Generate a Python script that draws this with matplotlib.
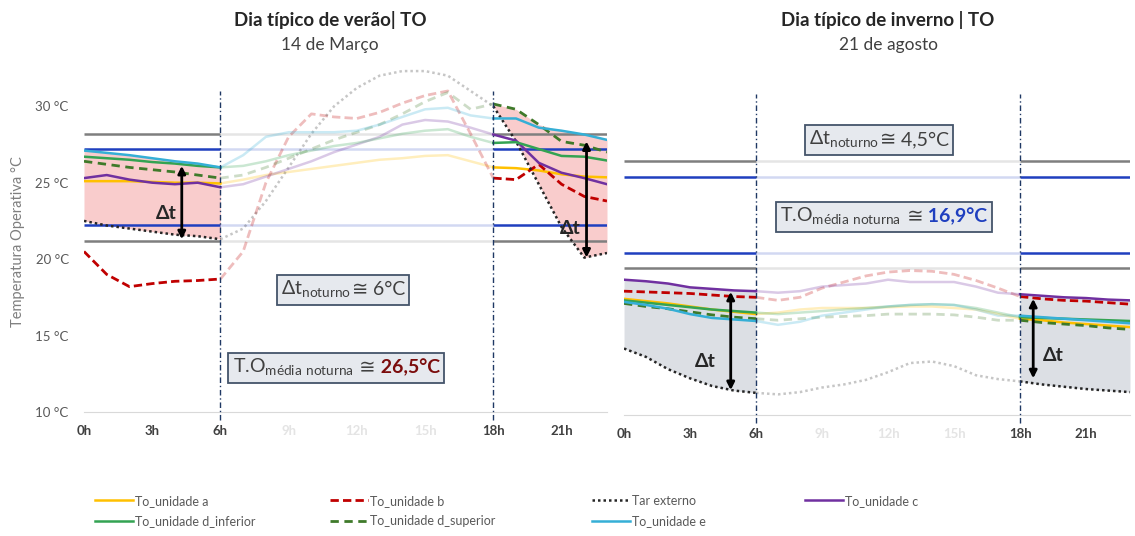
import matplotlib
matplotlib.use("Agg")
import matplotlib.pyplot as plt
from matplotlib.lines import Line2D
from matplotlib.offsetbox import TextArea, HPacker, AnnotationBbox

plt.rcParams["font.family"] = ["Lato", "DejaVu Sans"]

# hours of the day
hours = list(range(24))
tick_hours = [0, 3, 6, 9, 12, 15, 18, 21]
tick_labels = ["0h", "3h", "6h", "9h", "12h", "15h", "18h", "21h"]
night_ticks = ["0h", "3h", "6h", "18h", "21h"]

names = ["To_unidade a", "To_unidade b", "Tar externo", "To_unidade c",
         "To_unidade d_inferior", "To_unidade d_superior", "To_unidade e"]

# summer day (14 de Março)
summer_a = [25.1, 25.1, 25.1, 25.05, 25.0, 25.0, 24.95, 25.2, 25.5, 25.7, 25.9, 26.1,
            26.3, 26.5, 26.6, 26.75, 26.8, 26.4, 26.0, 25.95, 25.8, 25.55, 25.4, 25.35]
summer_b = [20.5, 19.0, 18.2, 18.4, 18.55, 18.6, 18.7, 20.5, 25.0, 28.0, 29.5, 29.3,
            29.2, 29.6, 30.2, 30.7, 31.0, 28.2, 25.3, 25.2, 26.2, 24.9, 24.1, 23.8]
summer_tar = [22.5, 22.2, 22.0, 21.8, 21.6, 21.5, 21.3, 22.0, 23.8, 26.0, 28.2, 30.0,
              31.2, 32.0, 32.3, 32.3, 32.0, 31.0, 30.0, 27.7, 24.9, 22.1, 20.1, 20.4]
summer_c = [25.3, 25.5, 25.2, 25.0, 24.9, 25.0, 24.7, 24.9, 25.4, 25.9, 26.4, 27.0,
            27.5, 28.0, 28.8, 29.1, 29.0, 28.6, 28.15, 27.75, 26.3, 25.65, 25.3, 24.9]
summer_d_inf = [26.7, 26.6, 26.5, 26.35, 26.25, 26.1, 26.0, 26.1, 26.4, 26.8, 27.1, 27.4,
                27.6, 27.9, 28.2, 28.4, 28.5, 28.0, 27.6, 27.65, 27.2, 26.75, 26.7, 26.45]
summer_d_sup = [26.4, 26.2, 26.0, 25.85, 25.7, 25.5, 25.3, 25.5, 26.0, 26.6, 27.2, 27.8,
                28.3, 28.8, 29.5, 30.3, 30.9, 29.8, 30.15, 29.8, 28.8, 27.7, 27.45, 27.0]
summer_e = [27.1, 26.95, 26.8, 26.6, 26.4, 26.25, 26.0, 26.8, 28.0, 28.3, 28.3, 28.3,
            28.4, 28.8, 29.3, 29.8, 29.9, 29.4, 29.2, 29.2, 28.6, 28.4, 28.15, 27.8]
summer_comfort = [28.2, 27.2, 22.2, 21.2]

# winter day (21 de agosto)
winter_a = [17.6, 17.45, 17.3, 17.1, 16.9, 16.75, 16.6, 16.7, 16.9, 17.0, 17.0, 17.0,
            17.05, 17.1, 17.1, 17.0, 16.9, 16.6, 16.3, 16.2, 16.05, 15.95, 15.85, 15.75]
winter_b = [18.1, 18.05, 18.0, 17.95, 17.85, 17.75, 17.7, 17.5, 17.7, 18.3, 18.7, 19.1,
            19.35, 19.45, 19.4, 19.2, 18.8, 18.3, 17.75, 17.6, 17.5, 17.45, 17.35, 17.25]
winter_tar = [14.35, 13.8, 13.0, 12.4, 11.9, 11.6, 11.45, 11.35, 11.5, 11.8, 12.0, 12.3,
              12.8, 13.4, 13.5, 13.2, 12.6, 12.35, 12.2, 12.0, 11.85, 11.7, 11.6, 11.5]
winter_c = [18.85, 18.75, 18.6, 18.35, 18.25, 18.15, 18.1, 18.0, 18.1, 18.4, 18.5, 18.6,
            18.85, 18.7, 18.7, 18.7, 18.4, 18.0, 17.9, 17.8, 17.7, 17.65, 17.55, 17.5]
winter_d_inf = [17.5, 17.35, 17.2, 17.05, 16.9, 16.8, 16.7, 16.6, 16.7, 16.8, 16.9, 17.0,
                17.1, 17.2, 17.25, 17.2, 17.0, 16.7, 16.4, 16.35, 16.3, 16.25, 16.2, 16.15]
winter_d_sup = [17.3, 17.1, 16.95, 16.75, 16.55, 16.4, 16.3, 16.2, 16.3, 16.4, 16.45, 16.5,
                16.6, 16.6, 16.6, 16.55, 16.4, 16.2, 16.2, 16.05, 15.95, 15.85, 15.7, 15.6]
winter_e = [17.4, 17.2, 16.95, 16.6, 16.35, 16.25, 16.15, 15.9, 16.1, 16.5, 16.7, 16.9,
            17.1, 17.2, 17.25, 17.2, 16.9, 16.5, 16.5, 16.4, 16.3, 16.2, 16.1, 16.0]
winter_comfort = [26.6, 25.6, 20.6, 19.6]

styles = {
    "To_unidade a": dict(color="#ffc000", ls="-", lw=1.8),
    "To_unidade b": dict(color="#c00000", ls=(0, (3, 1.5)), lw=2.0),
    "Tar externo": dict(color="#262626", ls=(0, (1, 1.2)), lw=1.8),
    "To_unidade c": dict(color="#7030a0", ls="-", lw=1.8),
    "To_unidade d_inferior": dict(color="#33a352", ls="-", lw=1.8),
    "To_unidade d_superior": dict(color="#3f7a2a", ls=(0, (3, 2)), lw=2.0),
    "To_unidade e": dict(color="#35afd6", ls="-", lw=1.8),
}
comfort_colors = ["#7f7f7f", "#1f3fbf", "#1f3fbf", "#7f7f7f"]
DAY_ALPHA = 0.26


def segments(values):
    # night (full), day (faded), night (full)
    return [(hours[:7], values[:7], 1.0),
            (hours[6:19], values[6:19], DAY_ALPHA),
            (hours[18:], values[18:], 1.0)]


def draw_panel(ax, series, comfort, fill_color):
    units = [v for k, v in series.items() if k != "Tar externo"]
    top = [max(v[i] for v in units) for i in hours]
    tar = series["Tar externo"]
    ax.fill_between(hours[:7], tar[:7], top[:7], color=fill_color, lw=0, zorder=1)
    ax.fill_between(hours[18:], tar[18:], top[18:], color=fill_color, lw=0, zorder=1)

    for level, col in zip(comfort, comfort_colors):
        for xs, _, a in segments([level] * 24):
            ax.plot([xs[0], xs[-1]], [level, level], color=col, lw=1.8,
                    alpha=a if a == 1 else 0.2, zorder=2, solid_capstyle="butt")

    for name in names:
        st = styles[name]
        for xs, ys, a in segments(series[name]):
            ax.plot(xs, ys, color=st["color"], ls=st["ls"], lw=st["lw"],
                    alpha=a, zorder=3)

    for h in (6, 18):
        ax.plot([h, h], [9.5, 31.0], color="#1f3864", lw=1.0,
                ls=(0, (4, 2, 1, 2)), zorder=4, clip_on=False)

    ax.set_xlim(0, 23)
    ax.set_ylim(10, 32.5)
    ax.set_xticks(tick_hours)
    ax.set_xticklabels(tick_labels, fontsize=9.5, fontweight="bold")
    for lab in ax.get_xticklabels():
        lab.set_color("#404040" if lab.get_text() in night_ticks else "#e4e4e4")
    ax.set_yticks([10, 15, 20, 25, 30])
    ax.set_yticklabels([f"{t} °C" for t in [10, 15, 20, 25, 30]],
                       fontsize=9.5, color="#595959")
    ax.tick_params(axis="both", length=0)
    ax.tick_params(axis="y", pad=11)
    ax.tick_params(axis="x", pad=9)
    for s in ("top", "right", "left"):
        ax.spines[s].set_visible(False)
    ax.spines["bottom"].set_color("#d9d9d9")


def note_box(ax, x, y, parts, size=14):
    kids = [TextArea(t, textprops=dict(fontsize=size, **p)) for t, p in parts]
    pack = HPacker(children=kids, align="baseline", pad=0, sep=0)
    ab = AnnotationBbox(pack, (x, y), xycoords="data", frameon=True, pad=0.28,
                        bboxprops=dict(boxstyle="square", fc="#e6e9ee",
                                       ec="#44546a", lw=1.3), zorder=6)
    ax.add_artist(ab)


def delta_arrow(ax, x, y0, y1, tx, ty):
    ax.annotate("", xy=(x, y1), xytext=(x, y0),
                arrowprops=dict(arrowstyle="<|-|>", color="black", lw=2,
                                mutation_scale=11, shrinkA=0, shrinkB=0), zorder=5)
    ax.text(tx, ty, "Δt", fontsize=14, fontweight="bold", color="#262626",
            ha="center", va="center", zorder=5)


fig = plt.figure(figsize=(11.35, 5.36), dpi=100)
ax_l = fig.add_axes([0.0740, 0.2313, 0.4608, 0.6418])
ax_r = fig.add_axes([0.5498, 0.2257, 0.4458, 0.6418])

summer = dict(zip(names, [summer_a, summer_b, summer_tar, summer_c,
                          summer_d_inf, summer_d_sup, summer_e]))
winter = dict(zip(names, [winter_a, winter_b, winter_tar, winter_c,
                          winter_d_inf, winter_d_sup, winter_e]))

draw_panel(ax_l, summer, summer_comfort, "#f9cccc")
draw_panel(ax_r, winter, winter_comfort, "#dcdfe4")
ax_r.tick_params(labelleft=False)

grey_txt = dict(color="#404040")
cong_props = dict(color="#404040", family=["DejaVu Sans"])
note_box(ax_l, 11.4, 18.0, [(r"Δt$_{\mathregular{noturno}}$", grey_txt),
                            ("≅", cong_props), (" 6°C", grey_txt)])
note_box(ax_l, 11.1, 12.9, [(r"T.O$_{\mathregular{média\ noturna}}$", grey_txt),
                            (" ≅", cong_props),
                            (" 26,5°C", dict(color="#7b0c0c", fontweight="bold"))])
note_box(ax_r, 11.6, 28.0, [(r"Δt$_{\mathregular{noturno}}$", grey_txt),
                            ("≅", cong_props), (" 4,5°C", grey_txt)])
note_box(ax_r, 11.8, 22.97, [(r"T.O$_{\mathregular{média\ noturna}}$", grey_txt),
                             (" ≅", cong_props),
                             (" 16,9°C", dict(color="#1f3fbf", fontweight="bold"))])

delta_arrow(ax_l, 4.3, 26.1, 21.3, 3.6, 23.0)
delta_arrow(ax_l, 22.1, 27.7, 20.1, 21.4, 22.0)
delta_arrow(ax_r, 4.85, 18.06, 11.63, 3.7, 13.5)
delta_arrow(ax_r, 18.6, 17.6, 12.4, 19.5, 13.9)

# titles
fig.text(0.2907, 0.9627, "Dia típico de verão| TO", ha="center", va="center",
         fontsize=13.5, fontweight="bold", color="#262626")
fig.text(0.2907, 0.916, "14 de Março", ha="center", va="center",
         fontsize=12.5, color="#404040")
fig.text(0.7824, 0.9627, "Dia típico de inverno | TO", ha="center", va="center",
         fontsize=13.5, fontweight="bold", color="#262626")
fig.text(0.7824, 0.916, "21 de agosto", ha="center", va="center",
         fontsize=12.5, color="#404040")
fig.text(0.016, 0.55, "Temperatura Operativa °C", rotation=90, ha="center",
         va="center", fontsize=10.5, color="#7f7f7f")

# legend, four columns placed by hand
handles = {n: Line2D([], [], color=styles[n]["color"], ls=styles[n]["ls"],
                     lw=styles[n]["lw"]) for n in names}
columns = [["To_unidade a", "To_unidade d_inferior"],
           ["To_unidade b", "To_unidade d_superior"],
           ["Tar externo", "To_unidade e"],
           ["To_unidade c"]]
col_x = [95, 330, 592, 805]
for cx, col in zip(col_x, columns):
    leg = fig.legend([handles[n] for n in col], col, loc="upper left",
                     bbox_to_anchor=(cx / 1135, 0.077), frameon=False,
                     handlelength=3, handletextpad=0.2, borderpad=0,
                     borderaxespad=0, labelspacing=0.7, fontsize=9)
    for t in leg.get_texts():
        t.set_color("#595959")

fig.savefig("out.png", dpi=100)
